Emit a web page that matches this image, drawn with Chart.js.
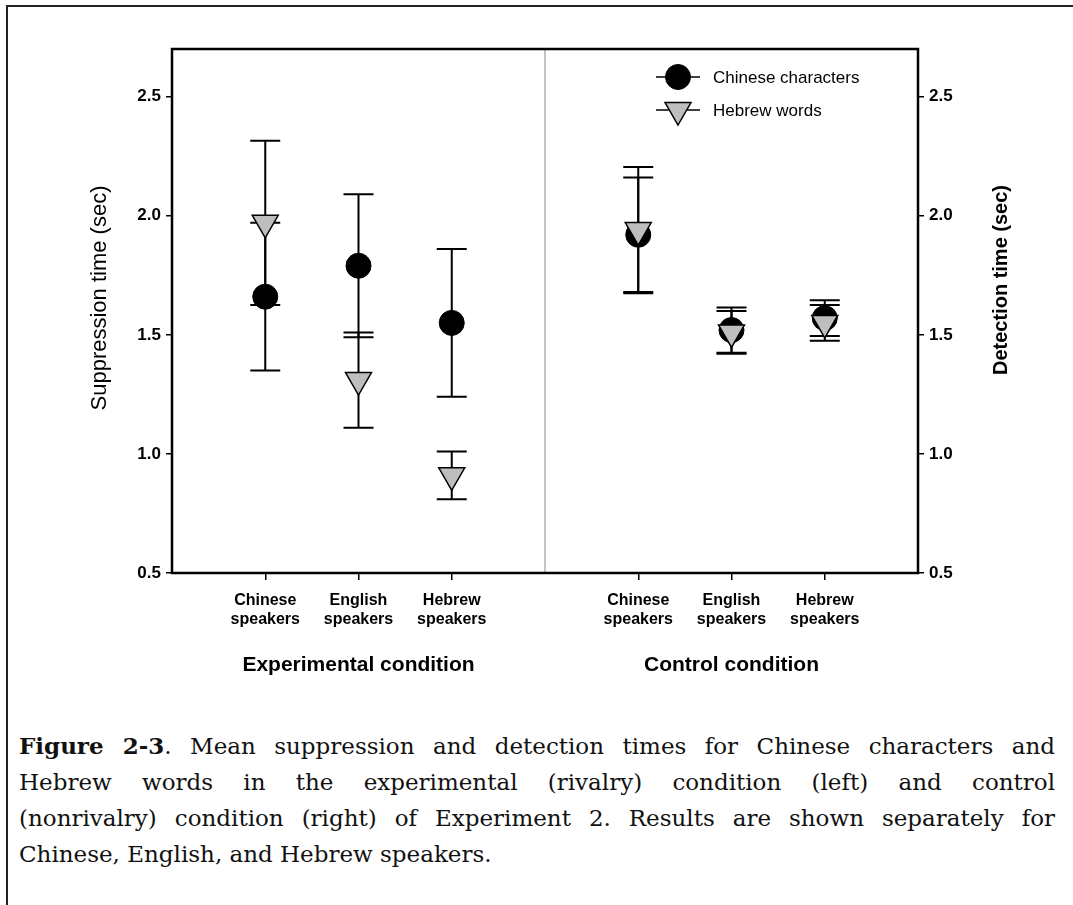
<!DOCTYPE html>
<html>
<head>
<meta charset="utf-8">
<script src="https://cdn.jsdelivr.net/npm/chart.js@4.4.0/dist/chart.umd.min.js"></script>
<style>
  html, body { margin: 0; padding: 0; background: #fff; }
  #page { position: relative; width: 1073px; height: 905px; overflow: hidden; }
  #frame { position: absolute; left: 6px; top: 5px; width: 1200px; height: 1000px; border: 2px solid #222; }
  #chartBox { position: absolute; left: 0; top: 0; width: 1073px; height: 700px; }
  #caption { position: absolute; left: 19px; top: 728px; width: 1036px;
             font-family: 'DejaVu Serif', serif; font-size: 23px; line-height: 36px; color: #111; }
  #caption div { text-align: justify; text-align-last: justify; }
  #caption div.last { text-align-last: left; }
</style>
</head>
<body>
<div id="page">
  <div id="frame"></div>
  <div id="chartBox"><canvas id="myChart"></canvas></div>
  <div id="caption">
    <div><b>Figure 2-3</b>. Mean suppression and detection times for Chinese characters and</div>
    <div>Hebrew words in the experimental (rivalry) condition (left) and control</div>
    <div>(nonrivalry) condition (right) of Experiment 2. Results are shown separately for</div>
    <div class="last">Chinese, English, and Hebrew speakers.</div>
  </div>
</div>
<script>
// speaker groups, left three = experimental, right three = control
const xPos = [1, 2, 3, 5, 6, 7];
const tickLabels = [
    ['Chinese', 'speakers'], ['English', 'speakers'], ['Hebrew', 'speakers'],
    ['Chinese', 'speakers'], ['English', 'speakers'], ['Hebrew', 'speakers'],
];
const conditions = ['Experimental condition', 'Control condition'];
const conditionCenters = [2, 6];

// means and error bar half-lengths (sec)
const chineseMean = [1.66, 1.79, 1.55, 1.92, 1.52, 1.57];
const chineseErr  = [0.31, 0.30, 0.31, 0.24, 0.095, 0.075];
const hebrewMean  = [1.97, 1.31, 0.91, 1.94, 1.51, 1.55];
const hebrewErr   = [0.345, 0.20, 0.10, 0.265, 0.09, 0.075];

const yTicks = [0.5, 1.0, 1.5, 2.0, 2.5];

const toPoints = (mean) => mean.map((v, i) => ({x: xPos[i], y: v}));

const errorBars = {
    id: 'errorBars',
    beforeDatasetsDraw(chart) {
        const {ctx, chartArea, scales: {x, y}} = chart;
        ctx.save();
        // divider between the two conditions
        ctx.strokeStyle = '#c4c4c4';
        ctx.lineWidth = 2;
        ctx.beginPath();
        ctx.moveTo(x.getPixelForValue(4), chartArea.top);
        ctx.lineTo(x.getPixelForValue(4), chartArea.bottom);
        ctx.stroke();

        ctx.strokeStyle = '#000';
        ctx.lineWidth = 2;
        chart.data.datasets.forEach(ds => {
            ds.data.forEach((p, i) => {
                const px = x.getPixelForValue(p.x);
                const hi = y.getPixelForValue(p.y + ds.errors[i]);
                const lo = y.getPixelForValue(p.y - ds.errors[i]);
                ctx.beginPath();
                ctx.moveTo(px, hi); ctx.lineTo(px, lo);
                ctx.moveTo(px - 15, hi); ctx.lineTo(px + 15, hi);
                ctx.moveTo(px - 15, lo); ctx.lineTo(px + 15, lo);
                ctx.stroke();
            });
        });

        // plot box
        ctx.lineWidth = 2.5;
        ctx.strokeRect(chartArea.left, chartArea.top, chartArea.right - chartArea.left, chartArea.bottom - chartArea.top);
        ctx.restore();
    },
    afterDraw(chart) {
        const {ctx, chartArea, scales: {x, y}} = chart;
        ctx.save();
        // legend
        const lx = chartArea.right - 240;
        const tx = chartArea.right - 205;
        chart.data.datasets.forEach((ds, k) => {
            const ly = chartArea.top + 28 + k * 33;
            ctx.strokeStyle = '#000';
            ctx.lineWidth = 1.5;
            ctx.beginPath();
            ctx.moveTo(lx - 22, ly); ctx.lineTo(lx + 22, ly);
            ctx.stroke();
            ctx.fillStyle = ds.backgroundColor;
            ctx.strokeStyle = ds.borderColor;
            ctx.lineWidth = ds.borderWidth;
            Chart.helpers.drawPoint(ctx, {pointStyle: ds.pointStyle, rotation: ds.rotation || 0,
                radius: ds.pointRadius, borderWidth: ds.borderWidth}, lx, ly);
            ctx.fillStyle = '#000';
            ctx.font = '17px "Liberation Sans", Arial, sans-serif';
            ctx.textAlign = 'left';
            ctx.textBaseline = 'middle';
            ctx.fillText(ds.label, tx, ly + 1);
        });

        // condition titles under the speaker labels
        ctx.font = 'bold 21px "Liberation Sans", Arial, sans-serif';
        ctx.textAlign = 'center';
        ctx.textBaseline = 'middle';
        conditions.forEach((c, i) => {
            ctx.fillText(c, x.getPixelForValue(conditionCenters[i]), 665);
        });

        // axis titles
        ctx.font = '22px "Liberation Sans", Arial, sans-serif';
        ctx.translate(100, 298);
        ctx.rotate(-Math.PI / 2);
        ctx.fillText('Suppression time (sec)', 0, 0);
        ctx.setTransform(1, 0, 0, 1, 0, 0);
        ctx.font = 'bold 20px "Liberation Sans", Arial, sans-serif';
        ctx.translate(1001, 280);
        ctx.rotate(-Math.PI / 2);
        ctx.fillText('Detection time (sec)', 0, 0);
        ctx.restore();
    }
};

const yTickFont = {family: '"Liberation Sans", Arial, sans-serif', size: 17, weight: 'bold'};

const config = {
    type: 'scatter',
    data: {
        datasets: [{
            label: 'Chinese characters',
            data: toPoints(chineseMean),
            errors: chineseErr,
            pointStyle: 'circle',
            pointRadius: 12.5,
            backgroundColor: '#000',
            borderColor: '#000',
            borderWidth: 1,
            order: 2,
        }, {
            label: 'Hebrew words',
            data: toPoints(hebrewMean),
            errors: hebrewErr,
            pointStyle: 'triangle',
            rotation: 180,
            pointRadius: 15,
            backgroundColor: '#bebebe',
            borderColor: '#000',
            borderWidth: 1.5,
            order: 1,
        }]
    },
    options: {
        responsive: true,
        maintainAspectRatio: false,
        animation: false,
        devicePixelRatio: 1,
        layout: {padding: {top: 49}},
        plugins: {legend: {display: false}, tooltip: {enabled: false}},
        elements: {point: {hoverRadius: 12.5}},
        scales: {
            x: {
                type: 'linear', min: 0, max: 8,
                afterBuildTicks: s => { s.ticks = xPos.map(v => ({value: v})); },
                afterFit: s => { s.height = 127; },
                border: {display: false},
                grid: {drawOnChartArea: false, drawTicks: true, tickLength: 7, color: '#000', lineWidth: 1.5},
                ticks: {
                    callback: (v, i) => tickLabels[i],
                    font: {family: '"Liberation Sans", sans-serif', size: 16, weight: 'bold'},
                    color: '#000', padding: 11, maxRotation: 0, autoSkip: false,
                },
            },
            y: {
                position: 'left', min: 0.5, max: 2.7,
                afterBuildTicks: s => { s.ticks = yTicks.map(v => ({value: v})); },
                afterFit: s => { s.width = 172; },
                border: {display: false},
                grid: {drawOnChartArea: false, drawTicks: true, tickLength: 6, color: '#000', lineWidth: 1.5},
                ticks: {callback: v => v.toFixed(1), font: yTickFont, color: '#000', padding: 5},
            },
            y2: {
                position: 'right', min: 0.5, max: 2.7,
                afterBuildTicks: s => { s.ticks = yTicks.map(v => ({value: v})); },
                afterFit: s => { s.width = 155; },
                border: {display: false},
                grid: {drawOnChartArea: false, drawTicks: true, tickLength: 6, color: '#000', lineWidth: 1.5},
                ticks: {callback: v => v.toFixed(1), font: yTickFont, color: '#000', padding: 5},
            },
        },
    },
    plugins: [errorBars],
};

const myChart = new Chart(document.getElementById('myChart'), config);
</script>
</body>
</html>
